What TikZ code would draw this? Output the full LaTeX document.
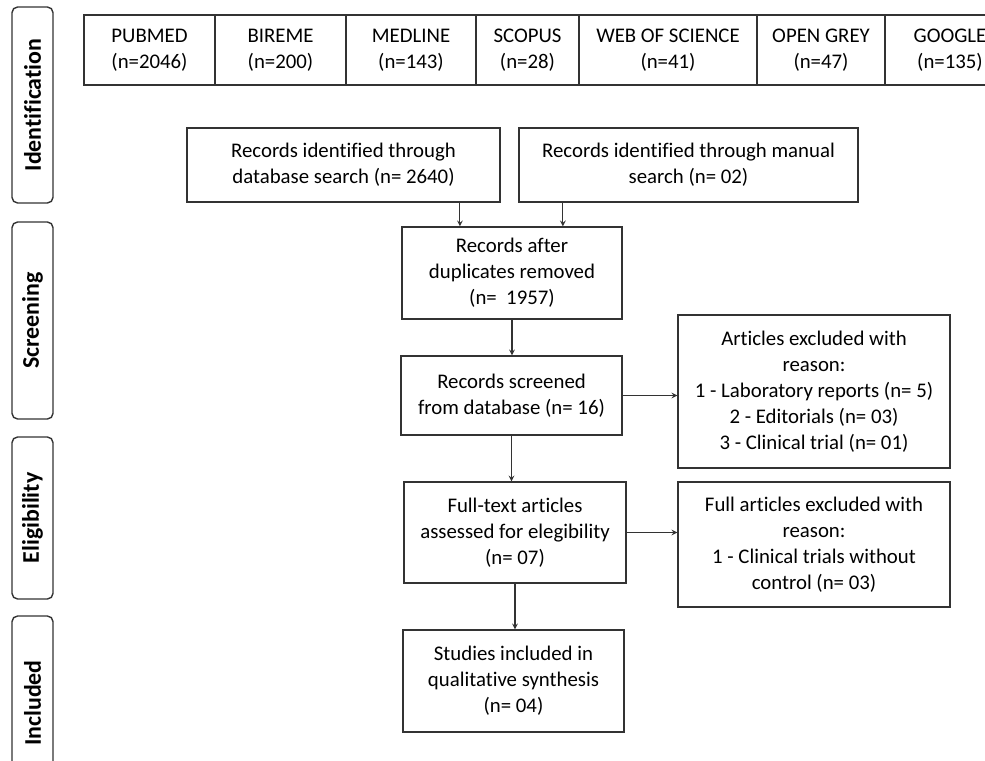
\documentclass[tikz,border=0pt]{standalone}
\usepackage{fontspec}
\setmainfont{Carlito}[Ligatures=NoCommon]
\tikzstyle{box}=[draw=black!80,line width=1pt,align=center,inner sep=0pt,font=\fontsize{14.8}{18.5}\selectfont]
\tikzstyle{phase}=[draw=black!80,line width=1pt,rounded corners=4pt,rotate=90,inner sep=0pt,font=\fontsize{17}{19}\selectfont\bfseries]
\tikzstyle{arr}=[->,>=stealth,draw=black!80,line width=0.8pt]

\begin{document}
\begin{tikzpicture}[x=0.025cm,y=-0.025cm]
\useasboundingbox (0,0) rectangle (985,761);
% phases on the left
\foreach \name/\cy/\h/\text in {ident/105/196/Identification, screen/320.5/197/Screening,
                                 elig/518/162/Eligibility, incl/703/174/Included}
  \node[phase,minimum width=\h*0.025cm,minimum height=1.025cm] (\name) at (32.5,\cy) {\text};
% databases
\foreach \name/\cx/\w/\db/\num in {pub/149.5/131/PUBMED/2046, bir/280.5/131/BIREME/200,
                                  med/411/130/MEDLINE/143, sco/527.5/103/SCOPUS/28,
                                  wos/668/178/WEB OF SCIENCE/41, ogr/821/128/OPEN GREY/47,
                                  goo/950/130/GOOGLE/135}
  \node[box,minimum width=\w*0.025cm,minimum height=1.75cm] (\name) at (\cx,50) {\db\\(n=\num)};
% flow
\node[box,minimum width=7.825cm,minimum height=1.85cm] (db) at (343.5,165)
  {Records identified through\\database search (n= 2640)};
\node[box,minimum width=8.475cm,minimum height=1.85cm] (man) at (688.5,165)
  {Records identified through manual\\search (n= 02)};
\node[box,minimum width=5.5cm,minimum height=2.3cm] (dup) at (512,273)
  {Records after\\duplicates removed\\(n= ~1957)};
\node[box,minimum width=5.525cm,minimum height=1.975cm] (scr) at (511.5,395.5)
  {Records screened\\from database (n= 16)};
\node[box,minimum width=6.8cm,minimum height=3.825cm] (exa) at (814,391.5)
  {Articles excluded with\\reason:\\1 - Laboratory reports (n= 5)\\2 - Editorials (n= 03)\\3 - Clinical trial (n= 01)};
\node[box,minimum width=5.55cm,minimum height=2.525cm] (full) at (515,532.5)
  {Full-text articles\\assessed for elegibility\\(n= 07)};
\node[box,minimum width=6.8cm,minimum height=3.125cm] (exf) at (814,544.5)
  {Full articles excluded with\\reason:\\1 - Clinical trials without\\control (n= 03)};
\node[box,minimum width=5.525cm,minimum height=2.55cm] (stud) at (513.5,681)
  {Studies included in\\qualitative synthesis\\(n= 04)};
% arrows
\draw[arr] ([xshift=2.91cm]db.south) -- ([xshift=2.91cm]db.south |- dup.north);
\draw[arr] ([xshift=-3.14cm]man.south) -- ([xshift=-3.14cm]man.south |- dup.north);
\draw[arr] (dup.south) -- (dup.south |- scr.north);
\draw[arr] (scr.east) -- (scr.east -| exa.west);
\draw[arr] (scr.south) -- (scr.south |- full.north);
\draw[arr] (full.east) -- (full.east -| exf.west);
\draw[arr] (full.south) -- (full.south |- stud.north);
\end{tikzpicture}
\end{document}
